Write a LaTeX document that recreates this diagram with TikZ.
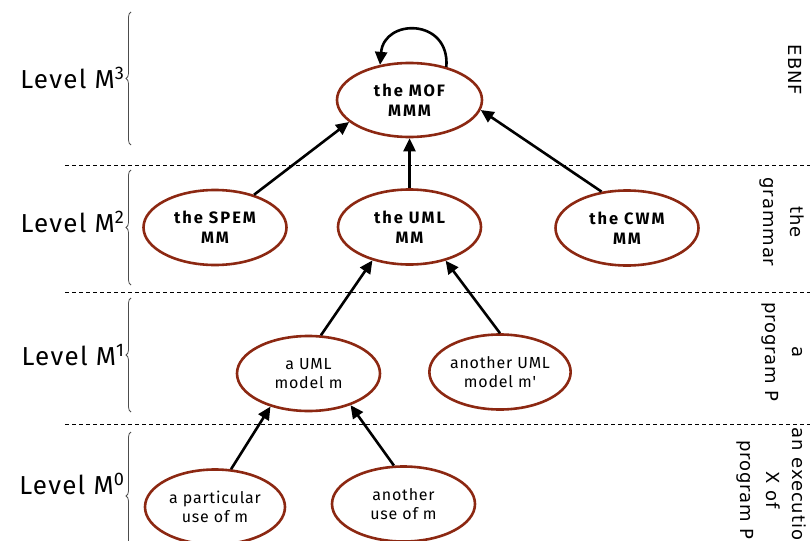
\documentclass[tikz,border=0pt]{standalone}
\usepackage{fontspec}
\setmainfont{Fira Sans}
\newfontfamily\nodefont[LetterSpace=12]{Fira Sans}
\newfontfamily\lowfont[LetterSpace=5]{Fira Sans}
\newfontfamily\lvlfont[LetterSpace=5]{Fira Sans}
\newfontfamily\sidefont[LetterSpace=5]{DejaVu Sans}
\usetikzlibrary{shapes.geometric,arrows.meta,decorations.pathreplacing}
\definecolor{ellbrown}{RGB}{140,40,18}
\tikzset{
  ell/.style={ellipse, draw=ellbrown, line width=2.6pt, fill=white, inner sep=0pt,
    minimum width=143pt, minimum height=75pt, align=center},
  topt/.style={font=\nodefont\fontsize{16.5}{20}\selectfont\bfseries},
  lowt/.style={font=\lowfont\fontsize{16}{19}\selectfont},
  arr/.style={line width=2.6pt, -{Triangle[length=13pt,width=12pt]}},
  sep/.style={dashed, line width=0.9pt, dash pattern=on 4pt off 3pt},
  brc/.style={draw=black!70, line width=0.8pt, decorate, decoration={brace, amplitude=5pt}},
  lvl/.style={font=\lvlfont\fontsize{26}{28}\selectfont, anchor=east},
  side/.style={font=\sidefont\fontsize{18}{27}\selectfont, rotate=-90, align=center}
}
\begin{document}
\begin{tikzpicture}[x=1pt,y=-1pt]
\useasboundingbox (0,0) rectangle (810,540);
\clip (0,0) rectangle (810,540);
% separators
\draw[sep] (65,165) -- (810,165);
\draw[sep] (65,292) -- (810,292);
\draw[sep] (65,424) -- (810,424);
% braces
\draw[brc] (131,145) -- (131,12);
\draw[brc] (131,285) -- (131,170);
\draw[brc] (131,412) -- (131,298);
\draw[brc] (131,560) -- (131,432);
% level labels
\node[lvl] (l3) at (128,78) {Level M\textsuperscript{3}};
\node[lvl] (l2) at (128,222) {Level M\textsuperscript{2}};
\node[lvl] (l1) at (128,355) {Level M\textsuperscript{1}};
\node[lvl] (l0) at (128,484) {Level M\textsuperscript{0}};
% side labels
\node[side] (s3) at (795,70) {EBNF};
\node[side] (s2) at (782,222) {the\\grammar};
\node[side] (s1) at (782,352) {a\\program P};
\node[side,font=\sidefont\fontsize{18}{26}\selectfont] (s0) at (771,490) {an execution\\X of\\program P};
% nodes
\node[ell,topt,minimum width=145pt,minimum height=74pt] (mof) at (409.5,100) {the MOF\\MMM};
\node[ell,topt] (spem) at (215,227.5) {the SPEM\\MM};
\node[ell,topt] (umlmm) at (409.5,227) {the UML\\MM};
\node[ell,topt] (cwm) at (627,228) {the CWM\\MM};
\node[ell,lowt] (um) at (308.5,373.5) {a UML\\model m};
\node[ell,lowt,minimum width=140pt] (um2) at (500,372) {another UML\\model m'};
\node[ell,lowt,minimum width=140pt] (use1) at (215,507) {a particular\\use of m};
\node[ell,lowt] (use2) at (403.5,504) {another\\use of m};
% arrows
\draw[arr] (spem.40) -- (mof.200);
\draw[arr] (umlmm.90) -- (mof.270);
\draw[arr] (cwm.125) -- (mof.352);
\draw[arr] (um.72) -- (umlmm.222);
\draw[arr] (um2.90) -- (umlmm.317);
\draw[arr] (use1.67) -- (um.221);
\draw[arr] (use2.104) -- (um.323);
\draw[arr] (mof.42) .. controls (450,18) and (384,18) .. (mof.130);
\end{tikzpicture}
\end{document}
